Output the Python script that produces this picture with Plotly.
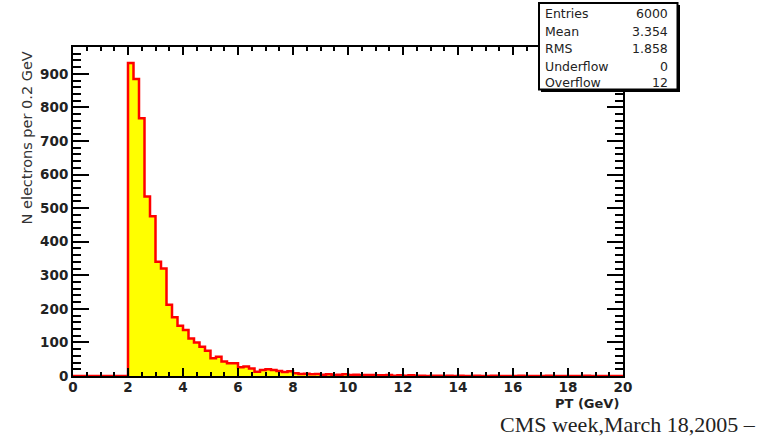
import numpy as np
import plotly.graph_objects as go

# Histogram of electron transverse momentum, 0.2 GeV bins from 0 to 20 GeV
bin_width = 0.2
x_min, x_max = 0.0, 20.0
counts = [
    # 0.0 - 2.0 GeV
    0, 0, 0, 0, 0, 0, 0, 0, 0, 0,
    # 2.0 - 4.0 GeV
    932, 885, 768, 535, 476, 340, 320, 212, 175, 150,
    # 4.0 - 6.0 GeV
    137, 112, 100, 87, 75, 53, 57, 43, 38, 38,
    # 6.0 - 8.0 GeV
    26, 28, 22, 13, 18, 20, 18, 15, 12, 14,
    # 8.0 - 10.0 GeV
    8, 6, 7, 5, 6, 4, 5, 3, 4, 5,
    # 10.0 - 12.0 GeV
    3, 4, 2, 3, 3, 2, 2, 3, 1, 2,
    # 12.0 - 14.0 GeV
    1, 2, 1, 1, 0, 1, 1, 0, 1, 0,
    # 14.0 - 16.0 GeV
    1, 0, 0, 1, 0, 0, 1, 0, 0, 0,
    # 16.0 - 18.0 GeV
    0, 1, 0, 0, 0, 0, 1, 0, 0, 0,
    # 18.0 - 20.0 GeV
    0, 0, 0, 1, 0, 0, 0, 0, 0, 0,
]

stat_names = ["Entries", "Mean", "RMS", "Underflow", "Overflow"]
stat_values = ["6000", "3.354", "1.858", "0", "12"]

x_tick_vals = [0, 2, 4, 6, 8, 10, 12, 14, 16, 18, 20]
y_tick_vals = [0, 100, 200, 300, 400, 500, 600, 700, 800, 900]

edges = np.round(np.arange(len(counts) + 1) * bin_width + x_min, 3)
step_y = counts + [counts[-1]]

fig = go.Figure()
fig.add_trace(go.Scatter(
    x=edges, y=step_y, mode="lines", line_shape="hv",
    line=dict(color="#ff0000", width=2.5),
    fill="tozeroy", fillcolor="#ffff00",
    hoverinfo="skip", showlegend=False,
))

W, H = 760, 438
ml, mr, mt, mb = 73, 137, 47, 62
pw, ph = W - ml - mr, H - mt - mb


def px_x(x):
    return (x - ml) / pw


def px_y(y):
    return (H - mb - y) / ph


tick_font = dict(family="DejaVu Sans", size=13.5, color="#222222", weight="bold")

fig.update_layout(
    width=W, height=H,
    margin=dict(l=ml, r=mr, t=mt, b=mb, pad=0),
    paper_bgcolor="white", plot_bgcolor="white",
    showlegend=False,
    xaxis=dict(
        range=[x_min, x_max], showgrid=False, zeroline=False,
        tickmode="array", tickvals=x_tick_vals,
        ticks="inside", ticklen=8, tickwidth=1.5, tickcolor="black",
        minor=dict(dtick=0.5, ticks="inside", ticklen=4, tickwidth=1.5, tickcolor="black"),
        showline=True, linecolor="black", linewidth=2, mirror="ticks",
        tickfont=tick_font, ticklabelstandoff=-2,
    ),
    yaxis=dict(
        range=[0, 980], showgrid=False, zeroline=False,
        tickmode="array", tickvals=y_tick_vals,
        ticks="inside", ticklen=16, tickwidth=1.5, tickcolor="black",
        minor=dict(dtick=20, ticks="inside", ticklen=8, tickwidth=1.5, tickcolor="black"),
        showline=True, linecolor="black", linewidth=2, mirror="ticks",
        tickfont=tick_font,
    ),
)

shapes = []
# statistics box: shadow then white panel
shapes.append(dict(type="rect", xref="paper", yref="paper",
                   x0=px_x(541), x1=px_x(680), y0=px_y(92), y1=px_y(5),
                   fillcolor="black", line=dict(width=0), layer="above"))
shapes.append(dict(type="rect", xref="paper", yref="paper",
                   x0=px_x(539), x1=px_x(677.5), y0=px_y(89.5), y1=px_y(3),
                   fillcolor="white", line=dict(color="black", width=2), layer="above"))
fig.update_layout(shapes=shapes)

annotations = []
row_y = [14, 31.5, 48.5, 66, 82.5]
stat_font = dict(family="DejaVu Sans", size=12.5, color="#222222")
for name, val, yy in zip(stat_names, stat_values, row_y):
    annotations.append(dict(x=px_x(543), y=px_y(yy), xref="paper", yref="paper",
                            text=name, showarrow=False, xanchor="left", yanchor="middle",
                            font=stat_font))
    annotations.append(dict(x=px_x(670), y=px_y(yy), xref="paper", yref="paper",
                            text=val, showarrow=False, xanchor="right", yanchor="middle",
                            font=stat_font))

annotations.append(dict(x=px_x(26), y=px_y(50), xref="paper", yref="paper",
                        text="N electrons per 0.2 GeV", textangle=-90, showarrow=False,
                        xanchor="center", yanchor="top",
                        font=dict(family="DejaVu Sans", size=14.5, color="#333333")))
annotations.append(dict(x=px_x(620), y=px_y(403), xref="paper", yref="paper",
                        text="PT (GeV)", showarrow=False, xanchor="right", yanchor="middle",
                        borderpad=0,
                        font=dict(family="DejaVu Sans", size=13, color="#222222", weight="bold")))
annotations.append(dict(x=px_x(757), y=px_y(437.5), xref="paper", yref="paper",
                        text="CMS week,March 18,2005 –", showarrow=False,
                        xanchor="right", yanchor="bottom", borderpad=0,
                        font=dict(family="Liberation Serif", size=22, color="#222222")))
fig.update_layout(annotations=annotations)

fig.write_html("out.html")
